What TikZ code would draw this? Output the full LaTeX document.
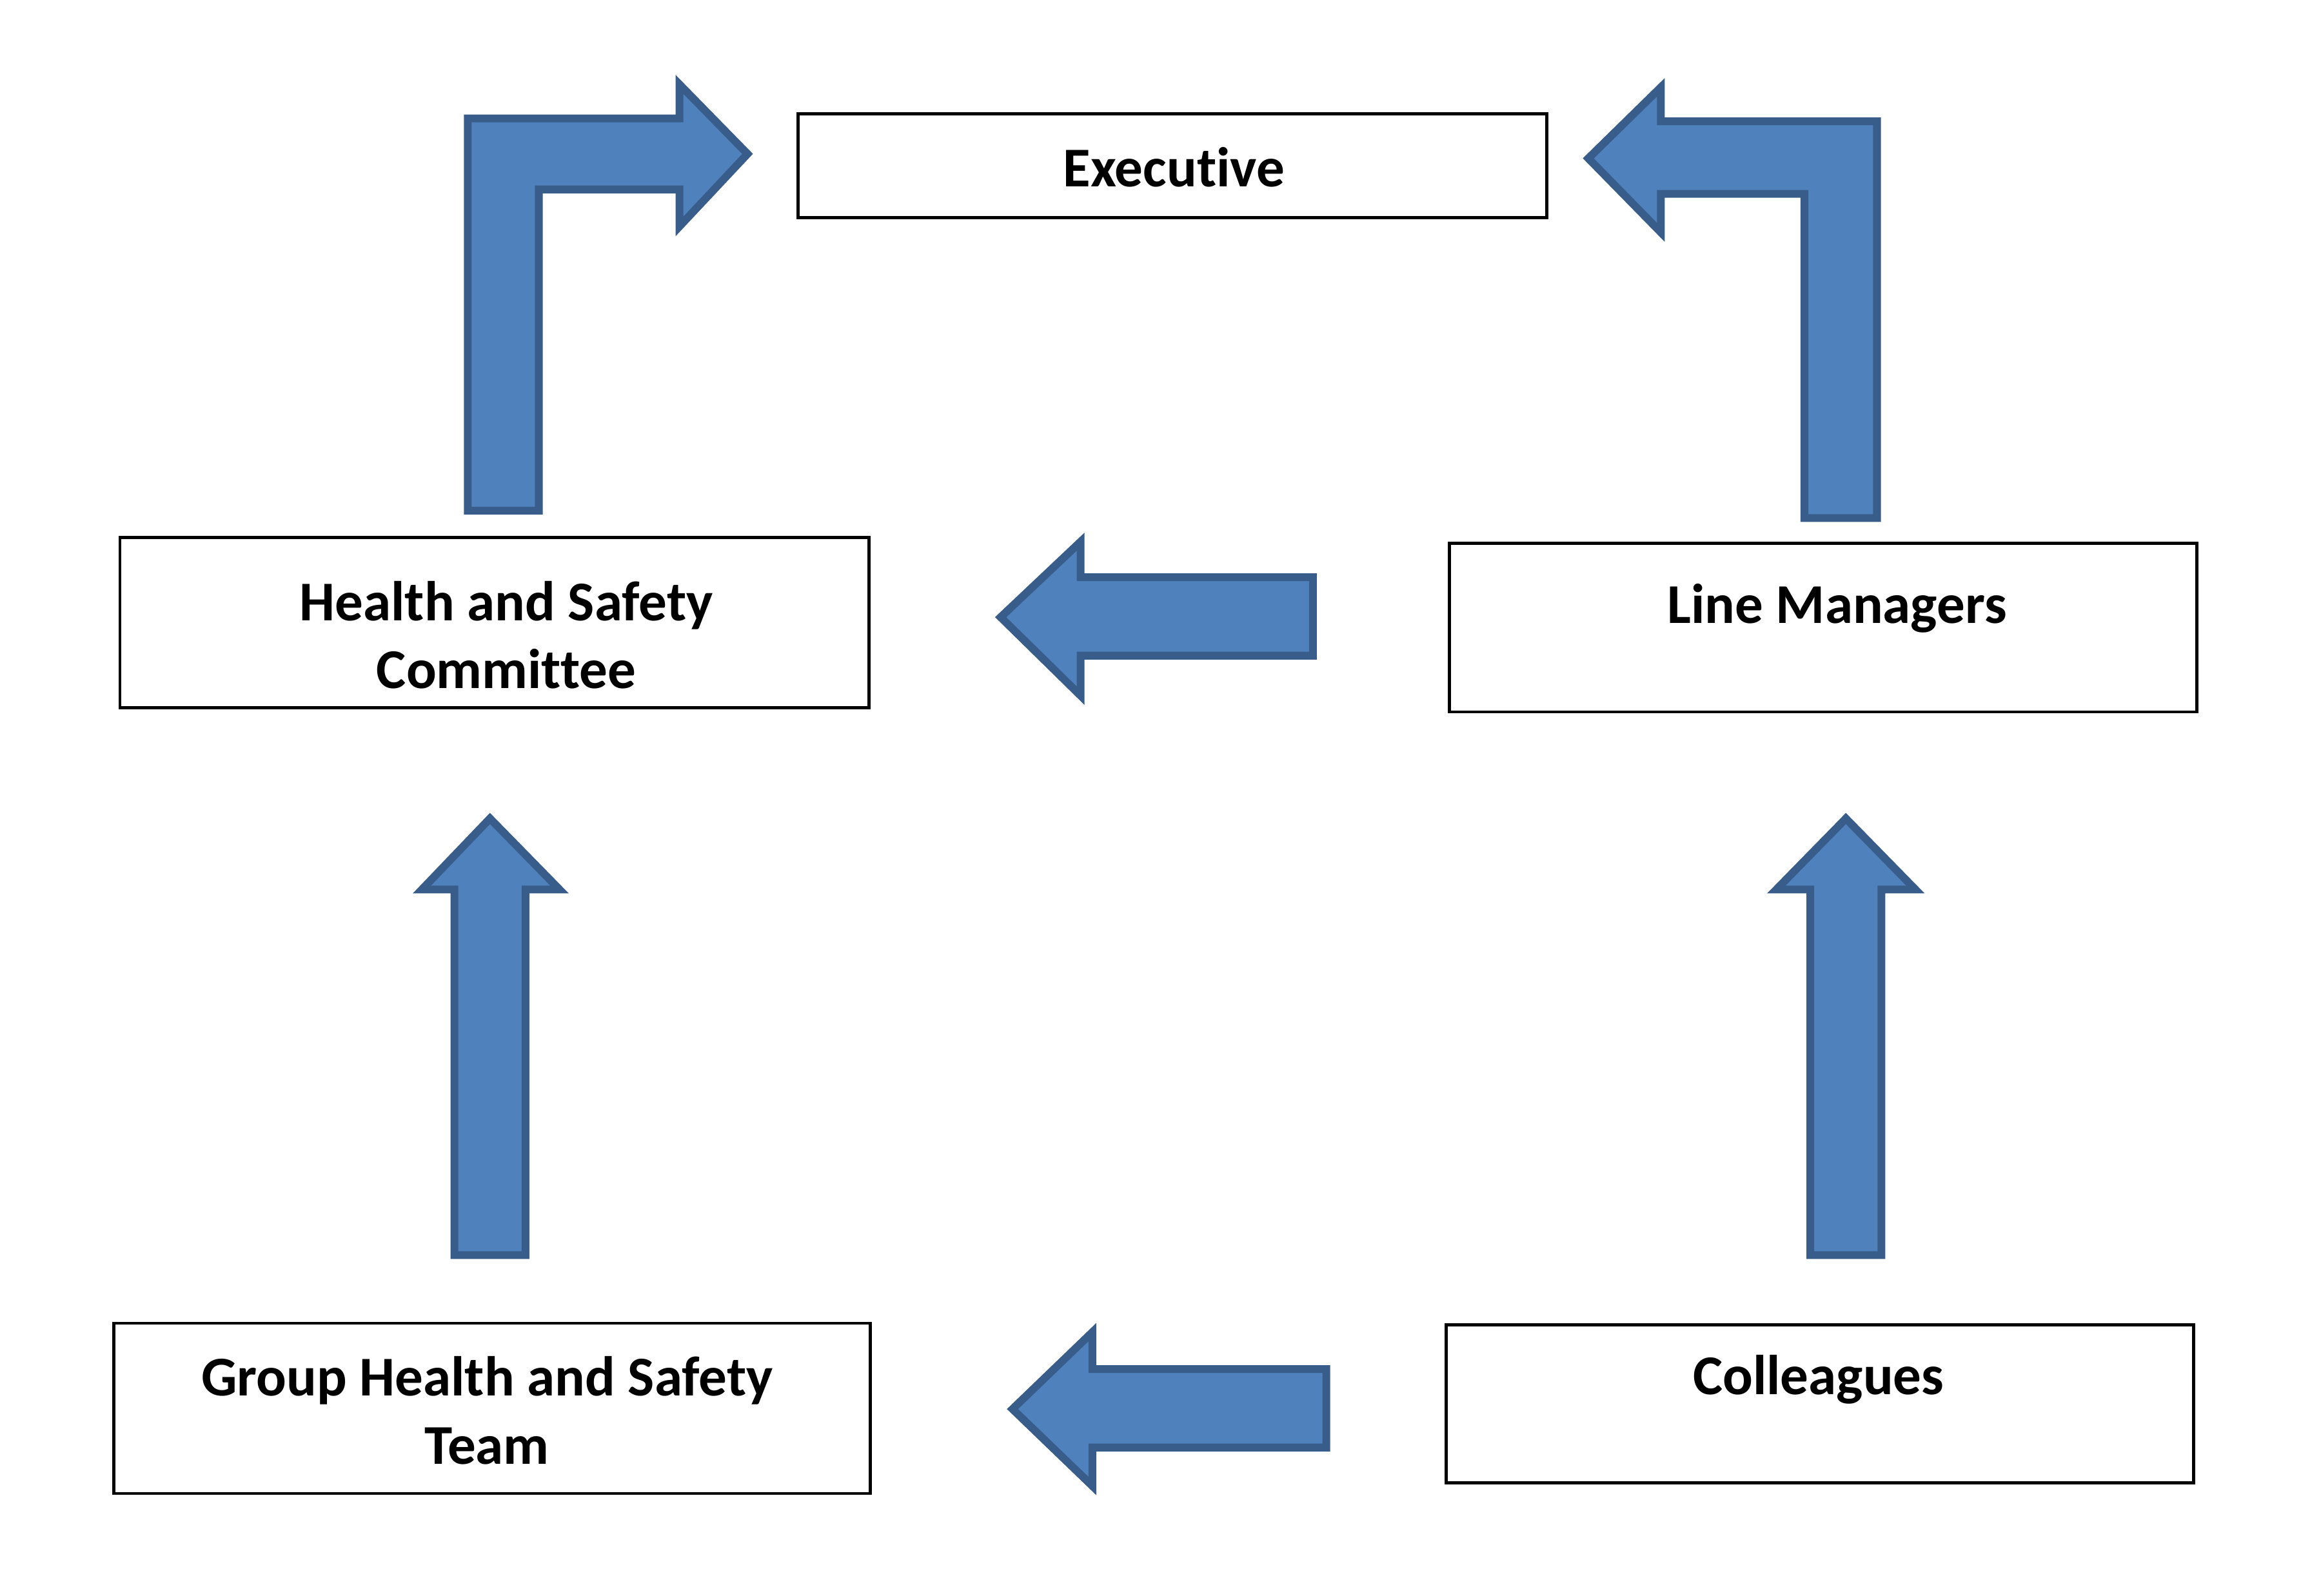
\documentclass[tikz,border=0pt]{standalone}
\usepackage{fontspec}
\setmainfont{Carlito}[Ligatures=NoCommon]
\definecolor{arrowfill}{HTML}{4F81BD}
\definecolor{arrowline}{HTML}{385D8A}
\begin{document}
\begin{tikzpicture}[
  box/.style={draw=black, line width=0.6pt, fill=white, inner sep=0pt},
  lbl/.style={font=\fontsize{10.8}{13.1}\selectfont\bfseries, align=center, inner sep=0pt},
  blockarrow/.style={fill=arrowfill, draw=arrowline, line width=1.5pt, line join=miter}
  ]
  \useasboundingbox (0,0) rectangle (15.68,-10.78);
  % boxes
  \node[box, minimum width=5.06cm, minimum height=0.70cm] (exec) at (7.92,-1.12) {};
  \node[box, minimum width=5.06cm, minimum height=1.15cm] (hsc) at (3.34,-4.205) {};
  \node[box, minimum width=5.05cm, minimum height=1.14cm] (lm) at (12.315,-4.24) {};
  \node[box, minimum width=5.11cm, minimum height=1.15cm] (ghst) at (3.325,-9.515) {};
  \node[box, minimum width=5.05cm, minimum height=1.07cm] (coll) at (12.295,-9.485) {};
  % labels
  \node[lbl] (execlbl) at (7.93,-1.13) {Executive};
  \node[lbl] (hsclbl) at (3.42,-4.29) {Health and Safety\\Committee};
  \node[lbl] (lmlbl) at (12.41,-4.11) {Line Managers};
  \node[lbl] (ghstlbl) at (3.29,-9.53) {Group Health and Safety\\Team};
  \node[lbl] (colllbl) at (12.285,-9.32) {Colleagues};
  % bent arrows to the executive
  \draw[blockarrow] (3.16,-3.45) -- (3.16,-0.80) -- (4.59,-0.80) -- (4.59,-0.57)
    -- (5.05,-1.04) -- (4.59,-1.53) -- (4.59,-1.28) -- (3.64,-1.28) -- (3.64,-3.45) -- cycle;
  \draw[blockarrow] (12.68,-3.50) -- (12.68,-0.82) -- (11.22,-0.82) -- (11.22,-0.59)
    -- (10.73,-1.07) -- (11.22,-1.57) -- (11.22,-1.31) -- (12.19,-1.31) -- (12.19,-3.50) -- cycle;
  % arrows pointing left
  \draw[blockarrow] (8.87,-3.90) -- (7.30,-3.90) -- (7.30,-3.66) -- (6.76,-4.17)
    -- (7.30,-4.70) -- (7.30,-4.43) -- (8.87,-4.43) -- cycle;
  \draw[blockarrow] (8.96,-9.25) -- (7.38,-9.25) -- (7.38,-9.00) -- (6.84,-9.52)
    -- (7.38,-10.04) -- (7.38,-9.78) -- (8.96,-9.78) -- cycle;
  % arrows pointing up
  \draw[blockarrow] (3.07,-8.48) -- (3.07,-6.01) -- (2.85,-6.01) -- (3.31,-5.53)
    -- (3.78,-6.01) -- (3.55,-6.01) -- (3.55,-8.48) -- cycle;
  \draw[blockarrow] (12.23,-8.48) -- (12.23,-6.01) -- (12.00,-6.01) -- (12.47,-5.53)
    -- (12.94,-6.01) -- (12.71,-6.01) -- (12.71,-8.48) -- cycle;
\end{tikzpicture}
\end{document}
